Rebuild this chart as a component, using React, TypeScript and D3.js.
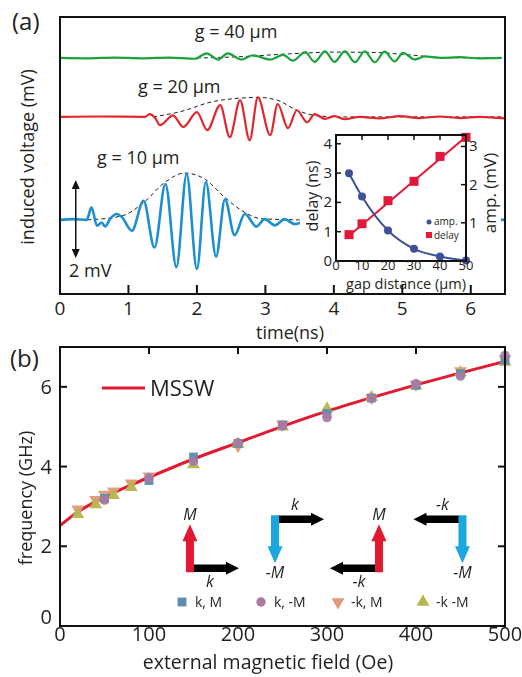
import React from "react";
import * as d3 from "d3";

const FONT = "'Open Sans', 'Noto Sans', sans-serif";

// ---- panel (a): time traces (t in ns, relative voltage in mV) ----
const timeTicks = [0, 1, 2, 3, 4, 5, 6];
const traceNames = ["g = 10 µm", "g = 20 µm", "g = 40 µm"];
const traceColors = ["#1b8fd2", "#e3262d", "#1aa33a"];
const traceOffsets = [1.9, 4.54, 6.05];
const labelT = [0.54, 1.14, 1.97];
const labelV = [3.33, 5.15, 6.56];

const blueTrace = [
  [0, 0], [0.2, 0.02], [0.39, 0], [0.46, 0.32], [0.54, -0.15], [0.61, -0.07], [0.66, -0.17],
  [0.73, 0.02], [0.83, 0.15], [0.9, 0.08], [1.05, -0.28], [1.22, 0.49], [1.38, -0.71],
  [1.54, 0.92], [1.7, -1.21], [1.85, 1.17], [2.0, -1.26], [2.13, 0.97], [2.28, -0.94],
  [2.41, 0.53], [2.55, -0.39], [2.7, 0.15], [2.87, -0.17], [2.99, 0.02], [3.14, -0.14],
  [3.28, 0.02], [3.43, -0.11], [3.6, -0.02], [4.0, 0.02], [4.5, -0.02], [5.0, 0.01],
  [5.5, -0.01], [6.0, 0.02], [6.5, 0],
];
const redTrace = [
  [0, 0], [0.6, 0.01], [1.24, 0], [1.31, 0.07], [1.39, -0.03], [1.46, -0.21], [1.65, 0.04],
  [1.8, -0.26], [2.0, 0.12], [2.15, -0.34], [2.34, 0.3], [2.48, -0.52], [2.63, 0.43],
  [2.77, -0.6], [2.89, 0.5], [3.07, -0.47], [3.18, 0.33], [3.33, -0.29], [3.46, 0.17],
  [3.61, -0.14], [3.72, 0.07], [3.87, -0.05], [4.01, 0.02], [4.16, -0.06], [4.38, 0],
  [4.67, -0.04], [4.96, 0.02], [5.26, -0.03], [5.55, 0.01], [5.84, -0.03], [6.13, 0], [6.5, -0.04],
];
const greenTrace = [
  [0, 0], [0.4, -0.01], [0.8, 0.01], [1.2, -0.01], [1.6, 0.01], [1.97, -0.02], [2.14, 0.12],
  [2.31, -0.04], [2.45, 0.12], [2.65, -0.04], [2.82, 0.07], [3.07, -0.04], [3.26, 0.08],
  [3.4, -0.07], [3.58, 0.15], [3.72, -0.1], [3.87, 0.17], [4.01, -0.1], [4.16, 0.17],
  [4.31, -0.11], [4.45, 0.17], [4.6, -0.11], [4.74, 0.16], [4.89, -0.09], [5.01, 0.13],
  [5.18, -0.04], [5.33, 0.04], [5.55, 0], [5.84, 0.02], [6.13, -0.01], [6.45, 0],
];
const blueEnv = [[0.4, 0], [0.9, 0.1], [1.22, 0.44], [1.53, 0.96], [1.82, 1.2], [2.12, 1.04], [2.41, 0.57], [2.7, 0.19], [2.94, 0.03], [3.5, 0]];
const redEnv = [[1.36, 0], [1.75, 0.13], [2.23, 0.39], [2.63, 0.48], [2.89, 0.5], [3.17, 0.43], [3.46, 0.17], [3.75, 0.03], [4.1, 0], [6.5, 0]];
const greenEnv = [[2.0, 0], [2.6, 0.03], [3.3, 0.1], [4.0, 0.15], [4.6, 0.14], [5.1, 0.08], [5.6, 0.01], [6.45, 0]];
const scaleBar = { t: 0.23, from: 0.92, to: 2.92, label: "2 mV" };

// ---- inset ----
const gapTicks = [0, 10, 20, 30, 40, 50];
const delayTicks = [0, 1, 2, 3, 4];
const ampTicks = [1, 2, 3];
const gaps = [5, 10, 20, 30, 40, 50];
const delays = [0.9, 1.27, 2.06, 2.72, 3.57, 4.22];
const amps = [2.3, 1.69, 0.8, 0.32, 0.12, 0.01];
const delayFit = [[5, 0.86], [50, 4.24]];

// ---- panel (b) ----
const fieldTicks = [0, 100, 200, 300, 400, 500];
const freqTicks = [0, 2, 4, 6];
const msswH = [0, 20, 40, 60, 80, 100, 150, 200, 250, 300, 350, 400, 450, 500];
const msswF = [2.52, 2.86, 3.12, 3.34, 3.54, 3.73, 4.19, 4.6, 5.01, 5.39, 5.73, 6.05, 6.35, 6.64];
const seriesNames = ["k, M", "k, -M", "-k, M", "-k -M"];
const seriesColors = ["#5b8db0", "#a87ca3", "#df9a7b", "#b7b64c"];
const kMH = [50, 100, 150, 200, 250, 300, 350, 400, 450, 500];
const kM = [3.2, 3.65, 4.24, 4.58, 5.04, 5.33, 5.72, 6.04, 6.33, 6.67];
const kNegM = [3.16, 3.72, 4.13, 4.6, 5.02, 5.23, 5.71, 6.08, 6.27, 6.79];
const negKMH = [20, 40, 50, 60, 80, 100, 200, 250, 350, 400, 450, 500];
const negKM = [2.93, 3.17, 3.3, 3.38, 3.58, 3.76, 4.52, 5.06, 5.73, 6.06, 6.4, 6.7];
const negKNegMH = [20, 40, 60, 80, 150, 200, 250, 300, 350, 400, 450, 500];
const negKNegM = [2.8, 3.05, 3.28, 3.48, 4.05, 4.56, 5.0, 5.45, 5.74, 6.03, 6.36, 6.62];
const icons = [
  { H: 146, f: 1.45, m: 1, k: 1 },
  { H: 241.6, f: 2.68, m: -1, k: 1 },
  { H: 358.4, f: 1.45, m: 1, k: -1 },
  { H: 452.2, f: 2.68, m: -1, k: -1 },
];

function arrowPath(x: number, y: number, dx: number, dy: number, len: number, sw: number, hw: number, hl: number) {
  const px = -dy, py = dx;
  const s = len - hl;
  const pts = [[0, -sw / 2], [s, -sw / 2], [s, -hw / 2], [len, 0], [s, hw / 2], [s, sw / 2], [0, sw / 2]];
  return "M" + pts.map(([a, b]) => `${x + a * dx + b * px},${y + a * dy + b * py}`).join("L") + "Z";
}

export default function App() {
  // panel (a) scales
  const xa = d3.scaleLinear().domain([0, 6.5]).range([60, 505]);
  const ya = d3.scaleLinear().domain([0, 7.1]).range([294, 17]);
  const traces = [blueTrace, redTrace, greenTrace];
  const envs = [blueEnv, redEnv, greenEnv];
  const traceLine = (off: number) =>
    d3.line<number[]>().x(d => xa(d[0])).y(d => ya(off + d[1])).curve(d3.curveMonotoneX);

  // inset scales
  const xg = d3.scaleLinear().domain([0, 50]).range([336, 466]);
  const yd = d3.scaleLinear().domain([0, 4.3]).range([261, 135]);
  const yam = d3.scaleLinear().domain([0, 3.3]).range([261, 135]);
  const ampLine = d3.line<number>().x((_, i) => xg(gaps[i])).y(d => yam(d)).curve(d3.curveMonotoneX);
  const fitLine = d3.line<number[]>().x(d => xg(d[0])).y(d => yd(d[1]));

  // panel (b) scales
  const xb = d3.scaleLinear().domain([0, 500]).range([60, 505]);
  const yb = d3.scaleLinear().domain([0, 7]).range([626, 347]);
  const msswLine = d3.line<number>().x((_, i) => xb(msswH[i])).y(d => yb(d)).curve(d3.curveMonotoneX);

  const sym = [
    d3.symbol().type(d3.symbolSquare).size(78)(),
    d3.symbol().type(d3.symbolCircle).size(70)(),
    d3.symbol().type(d3.symbolTriangle).size(72)(),
    d3.symbol().type(d3.symbolTriangle).size(72)(),
  ];
  const symRot = [0, 0, 180, 0];
  const series = [
    { h: kMH, f: kM },
    { h: kMH, f: kNegM },
    { h: negKMH, f: negKM },
    { h: negKNegMH, f: negKNegM },
  ];
  const drawOrder = [2, 3, 0, 1];
  const legendX = [182, 261, 338, 423];

  return (
    <svg width={522} height={677} style={{ position: "absolute", left: 0, top: 0, background: "#fff" }} fontFamily={FONT}>
      {/* ===== panel (a) ===== */}
      <text x={12} y={30} fontSize={24} fill="#231f20">(a)</text>
      {traces.map((tr, i) => (
        <g key={i}>
          <path d={traceLine(traceOffsets[i])(envs[i] as any) || ""} fill="none" stroke="#222" strokeWidth={1} strokeDasharray="4,3" />
          <path d={traceLine(traceOffsets[i])(tr as any) || ""} fill="none" stroke={traceColors[i]} strokeWidth={i === 0 ? 2.6 : 2.2} />
          <text x={xa(labelT[i])} y={ya(labelV[i])} fontSize={18} fill="#231f20">{traceNames[i]}</text>
        </g>
      ))}
      {/* scale bar */}
      <line x1={xa(scaleBar.t)} x2={xa(scaleBar.t)} y1={ya(scaleBar.from) - 6} y2={ya(scaleBar.to) + 6} stroke="#111" strokeWidth={1.5} />
      <path d={`M${xa(scaleBar.t)},${ya(scaleBar.to)} l-4,9 l8,0 Z M${xa(scaleBar.t)},${ya(scaleBar.from)} l-4,-9 l8,0 Z`} fill="#111" />
      <text x={69} y={277} fontSize={18} fill="#231f20">{scaleBar.label}</text>

      {/* inset */}
      <rect x={300} y={126} width={201} height={166} fill="#fff" />
      <path d={fitLine(delayFit as any) || ""} stroke="#e3173a" strokeWidth={2} fill="none" />
      <path d={ampLine(amps) || ""} stroke="#3f4f98" strokeWidth={2} fill="none" />
      {gaps.map((g, i) => (
        <g key={g}>
          <rect x={xg(g) - 4.5} y={yd(delays[i]) - 4.5} width={9} height={9} fill="#e3173a" />
          <circle cx={xg(g)} cy={yam(amps[i])} r={4} fill="#3f4f98" />
        </g>
      ))}
      <rect x={336} y={135} width={130} height={126} fill="none" stroke="#111" strokeWidth={2} />
      {delayTicks.map(t => (
        <g key={t}>
          <line x1={336} x2={341} y1={yd(t)} y2={yd(t)} stroke="#111" strokeWidth={1.5} />
          <text x={332} y={yd(t) + 5} fontSize={15} textAnchor="end" fill="#231f20">{t}</text>
        </g>
      ))}
      {ampTicks.map(t => (
        <g key={t}>
          <line x1={466} x2={461} y1={yam(t)} y2={yam(t)} stroke="#111" strokeWidth={1.5} />
          <text x={469} y={yam(t) + 5} fontSize={15} fill="#231f20">{t}</text>
        </g>
      ))}
      {gapTicks.map(t => (
        <g key={t}>
          {t > 0 && t < 50 && <line x1={xg(t)} x2={xg(t)} y1={135} y2={140} stroke="#111" strokeWidth={1.5} />}
          <text x={xg(t)} y={270} fontSize={13} textAnchor="middle" fill="#231f20">{t}</text>
        </g>
      ))}
      <text x={406} y={289.3} fontSize={14.5} textAnchor="middle" fill="#231f20">gap distance (µm)</text>
      <text transform="translate(318,196) rotate(-90)" fontSize={16} textAnchor="middle" fill="#231f20">delay (ns)</text>
      <text transform="translate(496,193) rotate(-90)" fontSize={17} textAnchor="middle" fill="#231f20">amp. (mV)</text>
      <circle cx={429} cy={222} r={2.5} fill="#3f4f98" />
      <text x={434} y={225} fontSize={10} fill="#231f20">amp.</text>
      <rect x={426} y={232} width={6} height={6} fill="#e3173a" />
      <text x={434} y={238.8} fontSize={10} fill="#231f20">delay</text>

      {/* frame and axis (a) */}
      <rect x={60} y={17} width={445} height={277} fill="none" stroke="#111" strokeWidth={2} />
      {timeTicks.map(t => (
        <g key={t}>
          {t > 0 && <line x1={xa(t)} x2={xa(t)} y1={294} y2={285} stroke="#111" strokeWidth={2} />}
          <text x={xa(t)} y={315} fontSize={19} textAnchor="middle" fill="#231f20">{t}</text>
        </g>
      ))}
      <text x={290} y={339} fontSize={18} textAnchor="middle" fill="#231f20">time(ns)</text>
      <text transform="translate(34,157) rotate(-90)" fontSize={18} textAnchor="middle" fill="#231f20">induced voltage (mV)</text>

      {/* ===== panel (b) ===== */}
      <text x={10} y={367} fontSize={24} fill="#231f20">(b)</text>
      <path d={msswLine(msswF) || ""} fill="none" stroke="#e31a2f" strokeWidth={3} />
      {drawOrder.map(si => (
        <g key={si} fill={seriesColors[si]} opacity={0.95}>
          {series[si].h.map((h, j) => (
            <path key={j} d={sym[si] || ""} transform={`translate(${xb(h)},${yb(series[si].f[j])}) rotate(${symRot[si]})`} />
          ))}
        </g>
      ))}
      <line x1={102} x2={145} y1={388} y2={388} stroke="#e31a2f" strokeWidth={3} />
      <text x={150} y={396} fontSize={22} fill="#231f20">MSSW</text>

      {/* M / k icons */}
      {icons.map((ic, i) => {
        const cx = xb(ic.H), cy = yb(ic.f);
        const mCol = ic.m > 0 ? "#e1182f" : "#1aa6df";
        const mLab = ic.m > 0 ? "M" : "-M";
        const kLab = ic.k > 0 ? "k" : "-k";
        return (
          <g key={i}>
            <path d={arrowPath(cx + ic.k * 3, cy, ic.k, 0, 46, 7.5, 13, 13)} fill="#000" />
            <path d={arrowPath(cx, cy + (ic.m > 0 ? 4 : -4), 0, -ic.m, 48, 8, 15, 17)} fill={mCol} />
            <text x={cx} y={ic.m > 0 ? cy - 48 : cy + 59} fontSize={16} fontStyle="italic" textAnchor="middle" fill="#231f20">{mLab}</text>
            <text x={cx + ic.k * 20} y={ic.m > 0 ? cy + 19 : cy - 9} fontSize={16} fontStyle="italic" textAnchor="middle" fill="#231f20">{kLab}</text>
          </g>
        );
      })}

      {/* marker legend */}
      {seriesNames.map((n, i) => (
        <g key={n}>
          <path d={sym[i] || ""} transform={`translate(${legendX[i]},602) rotate(${symRot[i]})`} fill={seriesColors[i]} />
          <text x={legendX[i] + 13} y={607} fontSize={14} fill="#231f20">{n}</text>
        </g>
      ))}

      <rect x={60} y={347} width={445} height={279} fill="none" stroke="#111" strokeWidth={2} />
      {freqTicks.map(t => (
        <g key={t}>
          {t > 0 && <line x1={60} x2={67} y1={yb(t)} y2={yb(t)} stroke="#111" strokeWidth={2} />}
          {t > 0 && <line x1={505} x2={498} y1={yb(t)} y2={yb(t)} stroke="#111" strokeWidth={2} />}
          <text x={52} y={yb(t) + (t === 0 ? -2 : 7)} fontSize={20} textAnchor="end" fill="#231f20">{t}</text>
        </g>
      ))}
      {fieldTicks.map(t => (
        <g key={t}>
          {t > 0 && t < 500 && <line x1={xb(t)} x2={xb(t)} y1={347} y2={354} stroke="#111" strokeWidth={2} />}
          <text x={xb(t)} y={641} fontSize={20} textAnchor="middle" fill="#231f20">{t}</text>
        </g>
      ))}
      <text x={268} y={669} fontSize={19.5} textAnchor="middle" fill="#231f20">external magnetic field (Oe)</text>
      <text transform="translate(32,498) rotate(-90)" fontSize={18} textAnchor="middle" fill="#231f20">frequency (GHz)</text>
    </svg>
  );
}
